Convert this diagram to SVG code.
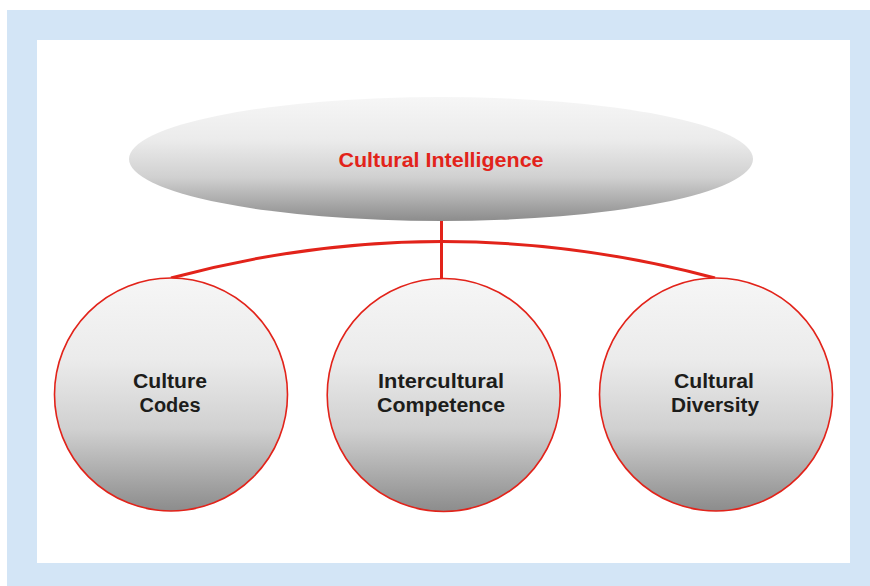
<svg xmlns="http://www.w3.org/2000/svg" width="870" height="586" viewBox="0 0 870 586">
  <defs>
    <linearGradient id="shade" x1="0" y1="0" x2="0" y2="1">
      <stop offset="0" stop-color="#f6f6f6"/>
      <stop offset="0.35" stop-color="#ebebeb"/>
      <stop offset="0.65" stop-color="#d0d0d0"/>
      <stop offset="1" stop-color="#8c8c8c"/>
    </linearGradient>
    <style>
      .frame { fill: #d3e5f6; }
      .panel { fill: #ffffff; }
      .oval { fill: url(#shade); }
      .ball { fill: url(#shade); stroke: #e2231a; stroke-width: 1.6; }
      .link { fill: none; stroke: #e2231a; stroke-width: 3; }
      .title { font-family: "Liberation Sans", Arial, sans-serif; font-weight: bold; font-size: 21px; fill: #e2231a; text-anchor: middle; }
      .label { font-family: "Liberation Sans", Arial, sans-serif; font-weight: bold; font-size: 20px; fill: #1d1d1b; text-anchor: middle; }
    </style>
  </defs>

  <!-- outer tinted frame and white panel -->
  <rect class="frame" x="7" y="10" width="863" height="576"/>
  <rect class="panel" x="37" y="40" width="813" height="523"/>

  <!-- connectors -->
  <g id="connectors">
    <path class="link" d="M441.5 215 V278" stroke-width="2.6"/>
    <path class="link" d="M171 278 Q441.5 205 715 278"/>
  </g>

  <g id="node-cultural-intelligence">
    <ellipse class="oval" cx="441" cy="159" rx="312" ry="62"/>
    <text class="title" x="441" y="166.5" textLength="205" lengthAdjust="spacingAndGlyphs">Cultural Intelligence</text>
  </g>

  <g id="node-culture-codes">
    <circle class="ball" cx="171" cy="394.5" r="116.5"/>
    <text class="label" x="170" y="388" textLength="74" lengthAdjust="spacingAndGlyphs">Culture</text>
    <text class="label" x="170" y="411.7" textLength="61" lengthAdjust="spacingAndGlyphs">Codes</text>
  </g>

  <g id="node-intercultural-competence">
    <circle class="ball" cx="443.7" cy="395" r="116.5"/>
    <text class="label" x="441" y="388.3" textLength="126" lengthAdjust="spacingAndGlyphs">Intercultural</text>
    <text class="label" x="441" y="411.7" textLength="128" lengthAdjust="spacingAndGlyphs">Competence</text>
  </g>

  <g id="node-cultural-diversity">
    <circle class="ball" cx="716" cy="394.5" r="116.5"/>
    <text class="label" x="714" y="388" textLength="80" lengthAdjust="spacingAndGlyphs">Cultural</text>
    <text class="label" x="715" y="411.7" textLength="88" lengthAdjust="spacingAndGlyphs">Diversity</text>
  </g>
</svg>
